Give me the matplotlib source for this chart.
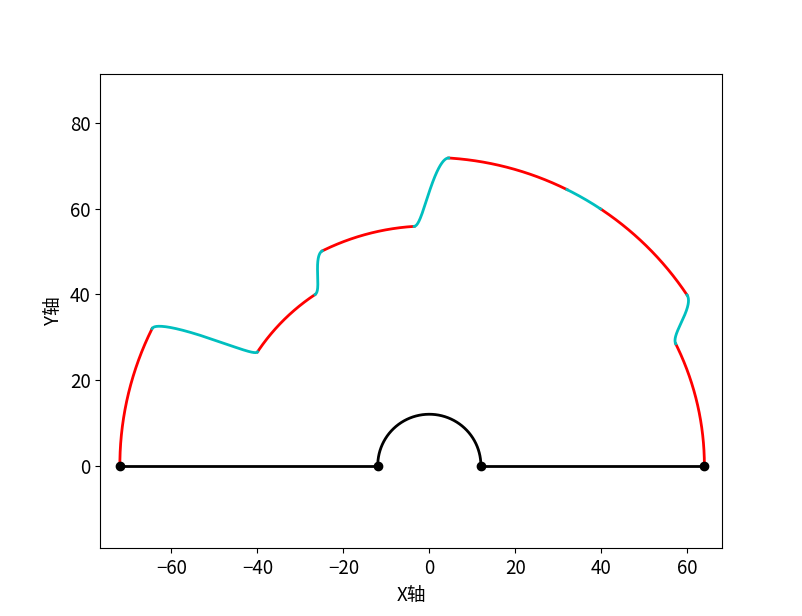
import numpy as np
import matplotlib
matplotlib.use("Agg")
import matplotlib.pyplot as plt

plt.rcParams['font.family'] = ['Noto Sans CJK SC', 'DejaVu Sans']
plt.rcParams['axes.unicode_minus'] = True

# Sector boundaries (degrees) and radii of each sector
sector_edges = [0, 30, 60, 90, 120, 150, 180]
sector_radii = [64, 72, 72, 56, 48, 72]
half_trans = 3.6          # half-width of the transition zone (degrees)
inner_radius = 12
base_points_x = [-72, -12, 12, 64]
x_ticks = [-60, -40, -20, 0, 20, 40, 60]
y_ticks = [0, 20, 40, 60, 80]

fig = plt.figure(figsize=(8.02, 6.16), dpi=100)
ax = fig.add_subplot(111)


def polar_xy(theta_deg, r):
    t = np.radians(theta_deg)
    return r * np.cos(t), r * np.sin(t)


n = len(sector_radii)
# red arcs
for i in range(n):
    a0 = sector_edges[i] + (half_trans if i > 0 else 0)
    a1 = sector_edges[i + 1] - (half_trans if i < n - 1 else 0)
    th = np.linspace(a0, a1, 200)
    x, y = polar_xy(th, np.full_like(th, sector_radii[i], dtype=float))
    ax.plot(x, y, color='r', lw=2)

# cyan transitions
for i in range(1, n):
    c = sector_edges[i]
    th = np.linspace(c - half_trans, c + half_trans, 200)
    s = (th - (c - half_trans)) / (2 * half_trans)
    w = 3 * s ** 2 - 2 * s ** 3
    r = sector_radii[i - 1] + (sector_radii[i] - sector_radii[i - 1]) * w
    x, y = polar_xy(th, r)
    ax.plot(x, y, color='c', lw=2)

# base line and inner semicircle
ax.plot([base_points_x[0], base_points_x[1]], [0, 0], color='k', lw=2)
ax.plot([base_points_x[2], base_points_x[3]], [0, 0], color='k', lw=2)
th = np.linspace(0, 180, 200)
x, y = polar_xy(th, np.full_like(th, inner_radius, dtype=float))
ax.plot(x, y, color='k', lw=2)
ax.plot(base_points_x, [0] * len(base_points_x), 'ko', ms=6)

ax.set_xlim(-76.56, 68.05)
ax.set_ylim(-19.3, 91.5)
ax.set_xticks(x_ticks)
ax.set_yticks(y_ticks)
ax.tick_params(labelsize=13.5)
ax.set_xlabel('X轴', fontsize=13.5)
ax.set_ylabel('Y轴', fontsize=13.5)

fig.savefig('out.png', dpi=100)
